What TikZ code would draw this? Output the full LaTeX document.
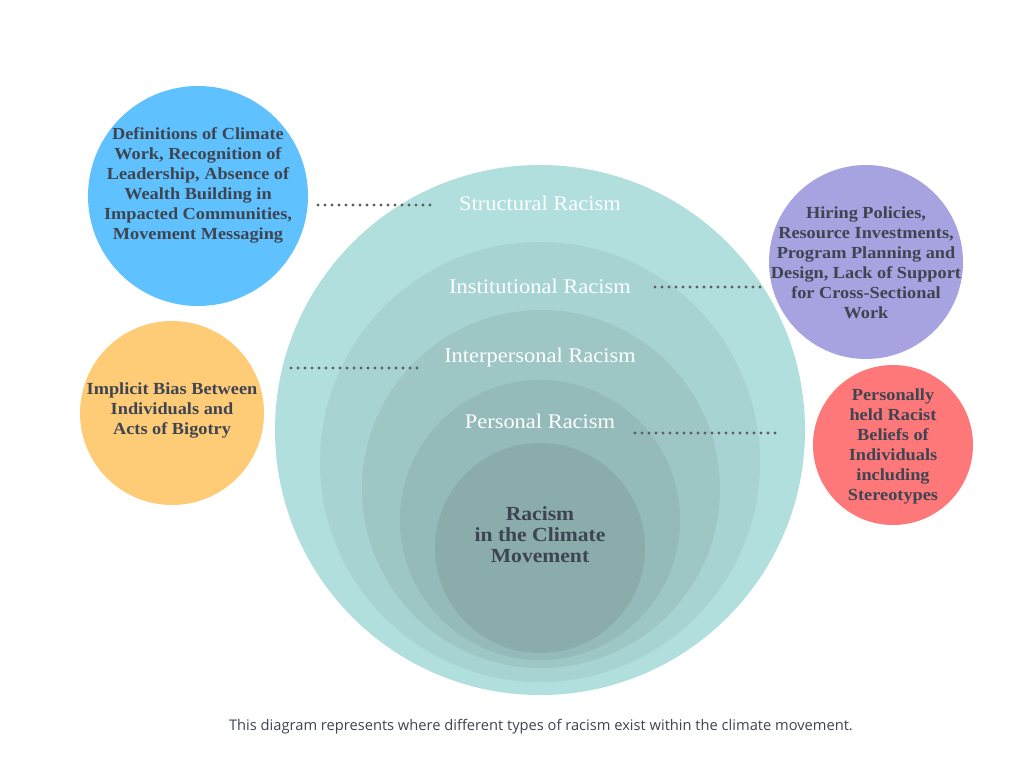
\documentclass[tikz,border=0pt]{standalone}
\usepackage{xcolor}
\usepackage{fontspec}
\setmainfont{Liberation Serif}[FakeStretch=1.08]
\newfontfamily\capfont{Open Sans}
\usetikzlibrary{positioning}

\definecolor{ring1}{HTML}{B0DFDE}
\definecolor{ring2}{HTML}{A7D3D3}
\definecolor{ring3}{HTML}{9DC6C5}
\definecolor{ring4}{HTML}{94BBBA}
\definecolor{ring5}{HTML}{8AADAC}
\definecolor{bluedot}{HTML}{5FC2FE}
\definecolor{purpledot}{HTML}{A7A2E0}
\definecolor{orangedot}{HTML}{FECB77}
\definecolor{reddot}{HTML}{FE7779}
\definecolor{darktext}{HTML}{3F4451}
\definecolor{dotline}{HTML}{5F5F5F}

\begin{document}
\begin{tikzpicture}[x=0.75pt,y=-0.75pt,
    disc/.style={circle,draw=none,inner sep=0pt},
    ringlabel/.style={text=white,font=\fontsize{15.6}{18}\selectfont},
    boxtext/.style={text=darktext,align=center,font=\bfseries\fontsize{12.7}{15}\selectfont},
    dots/.style={draw=dotline,line width=2.5pt,line cap=round,dash pattern=on 0pt off 5.25pt}]
  \useasboundingbox[fill=white] (0,0) rectangle (1024,768);

  % nested rings
  \node[disc,fill=ring1,minimum size=397.5pt] (structural) at (540,430) {};
  \node[disc,fill=ring2,minimum size=330pt] (institutional) at (540,462) {};
  \node[disc,fill=ring3,minimum size=268.5pt] (interpersonal) at (541,489) {};
  \node[disc,fill=ring4,minimum size=210pt] (personal) at (540,520) {};
  \node[disc,fill=ring5,minimum size=157.5pt] (core) at (540,548) {};

  \node[ringlabel] (lstructural) at (540,203) {Structural Racism};
  \node[ringlabel] (linstitutional) at (540,286) {Institutional Racism};
  \node[ringlabel] (linterpersonal) at (540,357) {Interpersonal Racism};
  \node[ringlabel] (lpersonal) at (540,421) {Personal Racism};
  \node[boxtext,font=\bfseries\fontsize{15}{15.8}\selectfont] (lcore) at (540,535)
    {Racism\\in the Climate\\Movement};

  % side circles
  \node[disc,fill=bluedot,minimum size=165pt] (blue) at (198,196) {};
  \node[disc,fill=purpledot,minimum size=145.5pt] (purple) at (866,262) {};
  \node[disc,fill=orangedot,minimum size=138pt] (orange) at (172,413) {};
  \node[disc,fill=reddot,minimum size=120pt] (red) at (893,445) {};

  \node[boxtext] (tblue) at (198,185)
    {Definitions of Climate\\Work, Recognition of\\Leadership, Absence of\\Wealth Building in\\Impacted Communities,\\Movement Messaging};
  \node[boxtext] (tpurple) at (866,263)
    {Hiring Policies,\\Resource Investments,\\Program Planning and\\Design, Lack of Support\\for Cross-Sectional\\Work};
  \node[boxtext] (torange) at (172,410)
    {Implicit Bias Between\\Individuals and\\Acts of Bigotry};
  \node[boxtext] (tred) at (893,446)
    {Personally\\held Racist\\Beliefs of\\Individuals\\including\\Stereotypes};

  % dotted leaders
  \coordinate (s1) at (318,205); \coordinate (s2) at (430,205);
  \coordinate (i1) at (655,287); \coordinate (i2) at (762,287);
  \coordinate (p1) at (291,368); \coordinate (p2) at (422,368);
  \coordinate (q1) at (635,433); \coordinate (q2) at (780,433);
  \draw[dots] (s1) -- (s2);
  \draw[dots] (i1) -- (i2);
  \draw[dots] (p1) -- (p2);
  \draw[dots] (q1) -- (q2);

  \node[text=darktext,font=\capfont\fontsize{11}{13}\selectfont] (caption) at (541,727)
    {This diagram represents where different types of racism exist within the climate movement.};
\end{tikzpicture}
\end{document}
